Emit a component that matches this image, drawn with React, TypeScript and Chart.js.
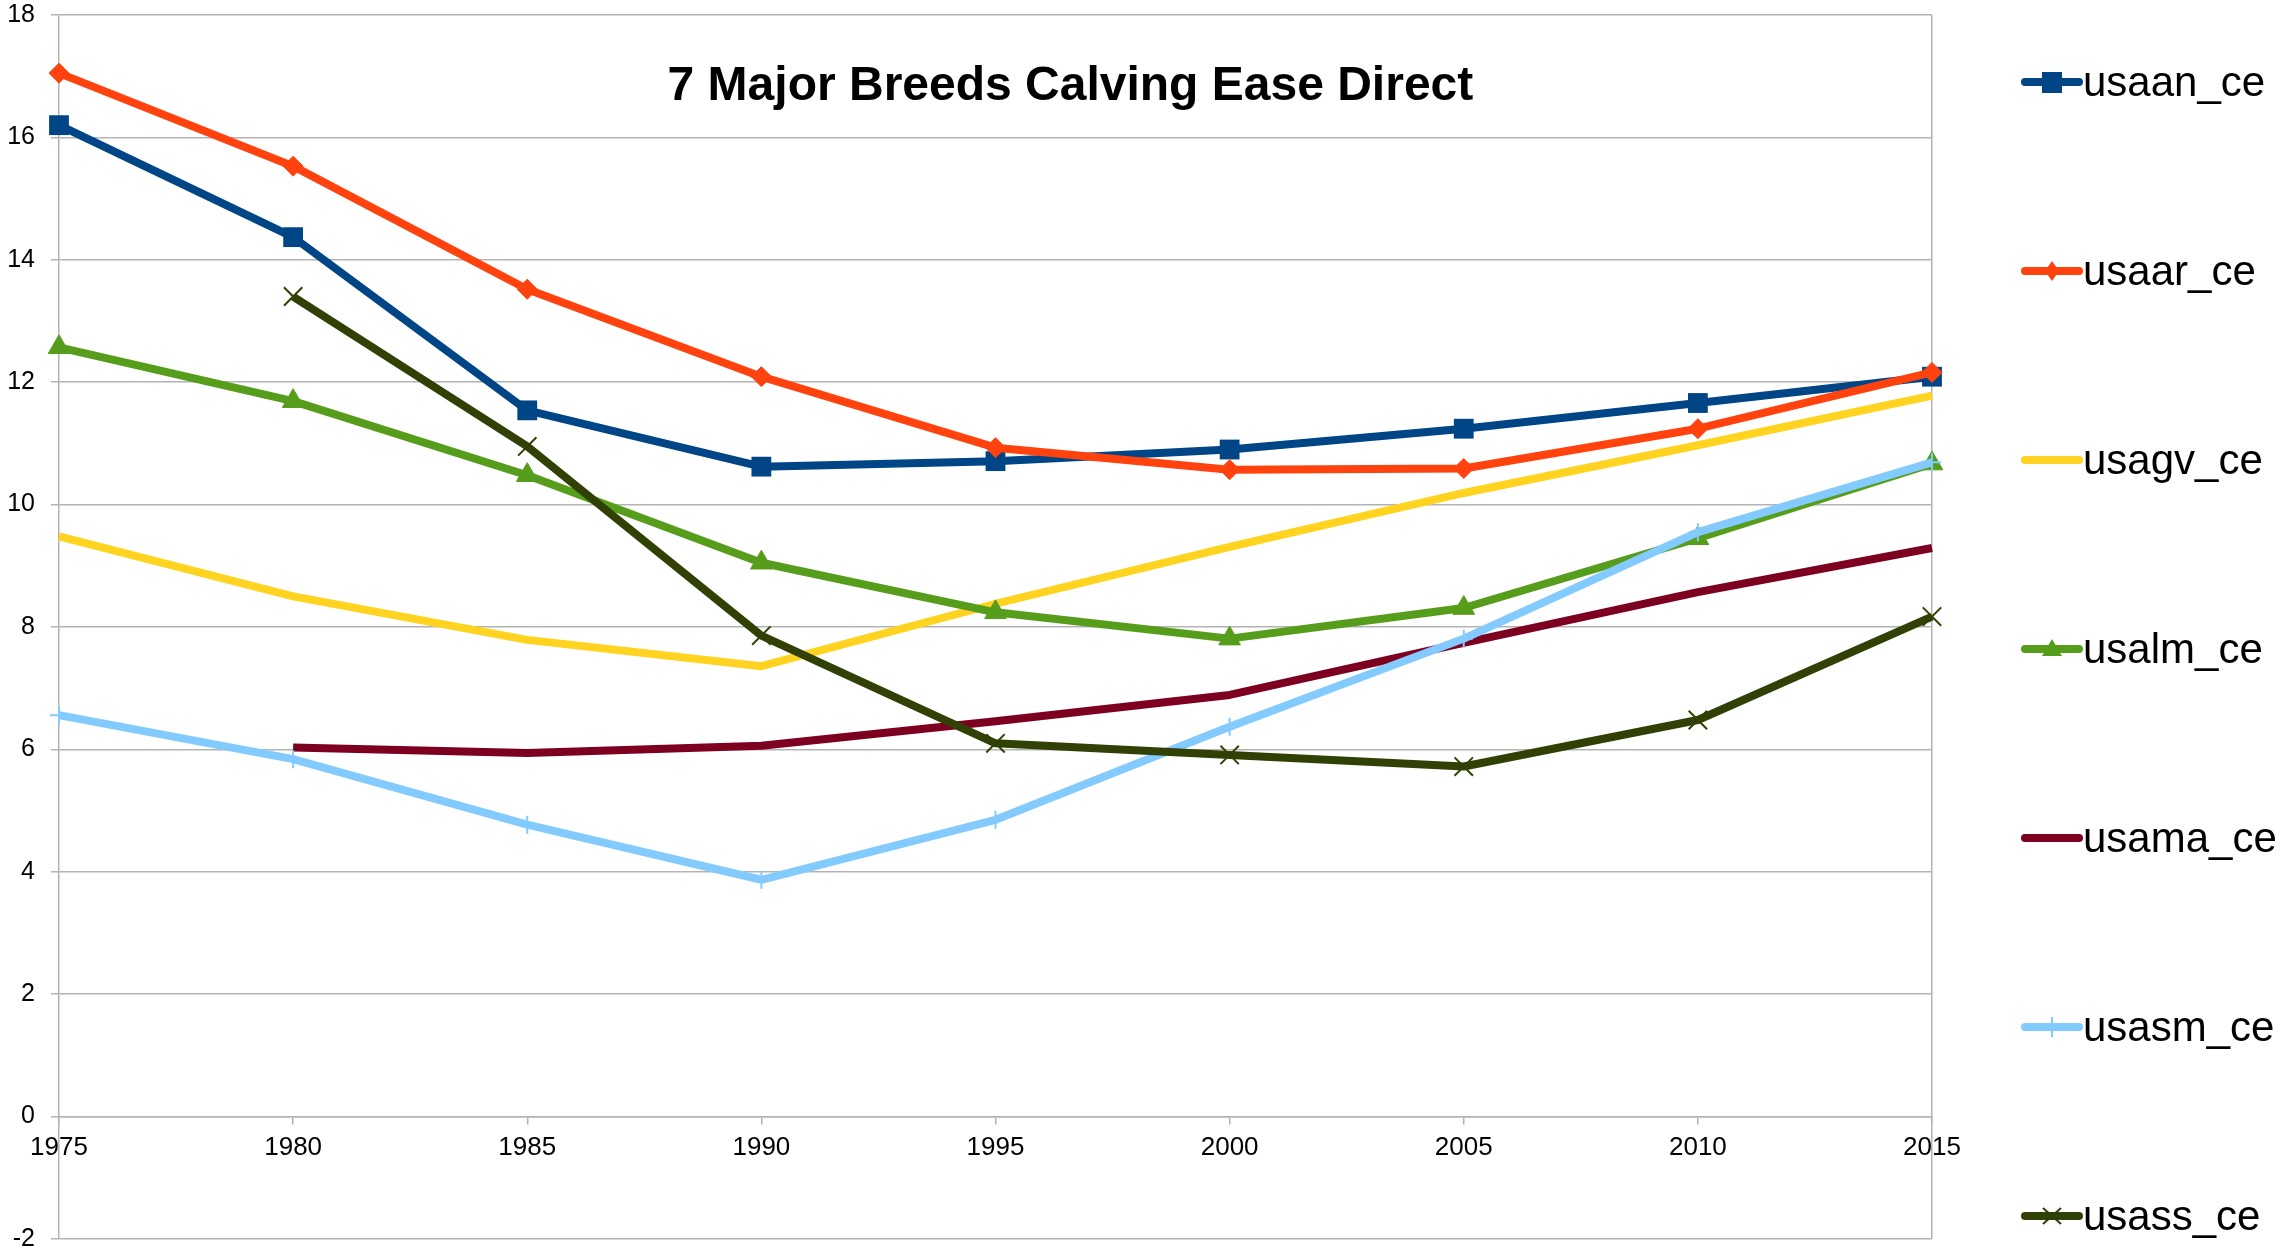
import React, { useEffect, useRef } from 'react';
import { Chart, registerables } from 'chart.js';

Chart.register(...registerables);

const TITLE = '7 Major Breeds Calving Ease Direct';
const years = ['1975', '1980', '1985', '1990', '1995', '2000', '2005', '2010', '2015'];
const seriesNames = ['usaan_ce', 'usaar_ce', 'usagv_ce', 'usalm_ce', 'usama_ce', 'usasm_ce', 'usass_ce'];

const usaan = [16.2, 14.37, 11.54, 10.62, 10.71, 10.9, 11.24, 11.66, 12.09];
const usaar = [17.05, 15.53, 13.52, 12.09, 10.93, 10.57, 10.59, 11.24, 12.16];
const usagv = [9.48, 8.5, 7.79, 7.36, 8.38, 9.31, 10.19, 10.97, 11.78];
const usalm = [12.57, 11.69, 10.48, 9.05, 8.24, 7.81, 8.31, 9.45, 10.67];
const usama = [null, 6.03, 5.94, 6.06, 6.46, 6.89, 7.74, 8.57, 9.29];
const usasm = [6.56, 5.84, 4.77, 3.87, 4.85, 6.37, 7.81, 9.55, 10.69];
const usass = [null, 13.4, 10.95, 7.86, 6.1, 5.91, 5.72, 6.48, 8.17];

const seriesValues = [usaan, usaar, usagv, usalm, usama, usasm, usass];
const colors = ['#004586', '#ff420e', '#ffd320', '#579d1c', '#7e0021', '#83caff', '#314004'];
const markerStyles: (string | false)[] = ['rect', 'rectRot', false, 'triangle', false, 'cross', 'crossRot'];
const markerRadius = [14, 10, 0, 12.5, 0, 9, 13];
const markerBorder = [0, 1, 0, 1, 0, 2, 2];

const yMin = -2;
const yMax = 18;
const yStep = 2;

const W = 2293;
const H = 1254;
const GRID = '#b3b3b3';
const FONT = 'Liberation Sans, Arial, sans-serif';

function drawMarker(ctx: CanvasRenderingContext2D, style: string | false, x: number, y: number, color: string) {
  if (!style) return;
  ctx.save();
  ctx.fillStyle = color;
  ctx.strokeStyle = color;
  ctx.beginPath();
  switch (style) {
    case 'rect':
      ctx.fillRect(x - 10, y - 10, 20, 21);
      break;
    case 'rectRot':
      ctx.moveTo(x, y - 10);
      ctx.lineTo(x + 7, y);
      ctx.lineTo(x, y + 10);
      ctx.lineTo(x - 7, y);
      ctx.closePath();
      ctx.fill();
      break;
    case 'triangle':
      ctx.moveTo(x, y - 10);
      ctx.lineTo(x + 10, y + 7);
      ctx.lineTo(x - 10, y + 7);
      ctx.closePath();
      ctx.fill();
      break;
    case 'cross':
      ctx.lineWidth = 2;
      ctx.moveTo(x, y - 10);
      ctx.lineTo(x, y + 10);
      ctx.stroke();
      break;
    case 'crossRot':
      ctx.lineWidth = 2;
      ctx.moveTo(x - 9, y - 8);
      ctx.lineTo(x + 9, y + 8);
      ctx.moveTo(x + 9, y - 8);
      ctx.lineTo(x - 9, y + 8);
      ctx.stroke();
      break;
  }
  ctx.restore();
}

const titlePlugin = {
  id: 'innerTitle',
  afterDraw(chart: any) {
    const { ctx, chartArea } = chart;
    ctx.save();
    ctx.font = `bold 48px ${FONT}`;
    ctx.fillStyle = '#000';
    ctx.textAlign = 'center';
    ctx.textBaseline = 'middle';
    const x = chartArea.left + (chartArea.right - chartArea.left) * 0.54;
    ctx.fillText(TITLE, x, chartArea.top + 72);
    ctx.restore();
  },
};

const sideLegendPlugin = {
  id: 'sideLegend',
  afterDraw(chart: any) {
    const { ctx, chartArea } = chart;
    const x0 = chartArea.right + 93;
    const lineLen = 54;
    chart.data.datasets.forEach((ds: any, i: number) => {
      const y = 82 + i * 189;
      ctx.save();
      ctx.strokeStyle = ds.borderColor;
      ctx.lineWidth = 8;
      ctx.lineCap = 'round';
      ctx.beginPath();
      ctx.moveTo(x0, y);
      ctx.lineTo(x0 + lineLen, y);
      ctx.stroke();
      ctx.restore();
      drawMarker(ctx, markerStyles[i], x0 + lineLen / 2, y, ds.borderColor);
      ctx.save();
      ctx.font = `42px ${FONT}`;
      ctx.fillStyle = '#000';
      ctx.textAlign = 'left';
      ctx.textBaseline = 'middle';
      ctx.fillText(ds.label, x0 + lineLen + 4, y + 2);
      ctx.restore();
    });
  },
};

export default function App() {
  const canvasRef = useRef<HTMLCanvasElement | null>(null);

  useEffect(() => {
    const canvas = canvasRef.current;
    if (!canvas) return;
    const n = seriesNames.length;
    const datasets = seriesNames.map((name, i) => ({
      label: name,
      data: seriesValues[i],
      borderColor: colors[i],
      backgroundColor: colors[i],
      borderWidth: 8,
      borderJoinStyle: 'round' as const,
      borderCapStyle: 'butt' as const,
      pointStyle: markerStyles[i] || 'circle',
      pointRadius: markerRadius[i],
      pointBorderWidth: markerBorder[i],
      pointBackgroundColor: colors[i],
      pointBorderColor: colors[i],
      tension: 0,
      spanGaps: false,
      order: n - i,
    }));

    const chart = new Chart(canvas, {
      type: 'line',
      data: { labels: years, datasets },
      plugins: [titlePlugin, sideLegendPlugin],
      options: {
        animation: false,
        responsive: false,
        maintainAspectRatio: false,
        devicePixelRatio: 1,
        layout: { padding: { left: 0, right: 361, top: 14, bottom: 11 } },
        plugins: {
          legend: { display: false },
          title: { display: false },
          tooltip: { enabled: false },
        },
        scales: {
          x: {
            type: 'category',
            position: { y: 0 } as any,
            offset: false,
            grid: {
              drawOnChartArea: true,
              color: (c: any) => (c.index === years.length - 1 ? GRID : 'rgba(0,0,0,0)'),
              tickColor: GRID,
              tickLength: 7,
              lineWidth: 1.5,
            },
            border: { color: GRID, width: 1.5 },
            ticks: {
              font: { family: FONT, size: 26 },
              color: '#000',
              padding: 9,
              maxRotation: 0,
              autoSkip: false,
            },
          },
          y: {
            min: yMin,
            max: yMax,
            ticks: {
              stepSize: yStep,
              font: { family: FONT, size: 25 },
              color: '#000',
              padding: 16,
            },
            grid: { color: GRID, lineWidth: 1.5, tickLength: 8 },
            border: { color: GRID, width: 1.5 },
            afterFit: (s: any) => {
              s.width = 59;
              s.paddingTop = 0;
              s.paddingBottom = 0;
            },
          },
        },
      } as any,
    });
    return () => chart.destroy();
  }, []);

  return (
    <div style={{ position: 'fixed', left: 0, top: 0, width: W, height: H, background: '#fff' }}>
      <canvas ref={canvasRef} width={W} height={H} style={{ display: 'block', width: W, height: H }} />
    </div>
  );
}
